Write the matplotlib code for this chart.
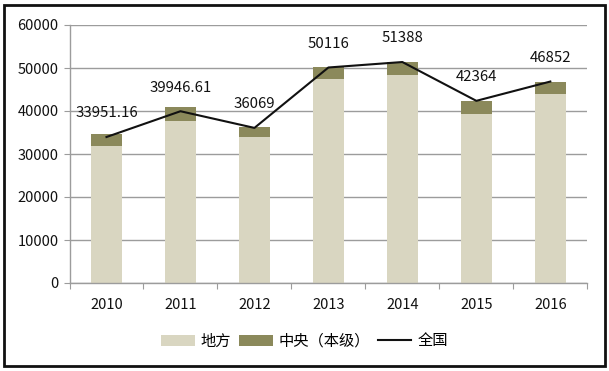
import matplotlib
matplotlib.use("Agg")
import matplotlib.pyplot as plt
import numpy as np
from matplotlib.patches import Patch, Rectangle
from matplotlib.lines import Line2D

plt.rcParams['font.family'] = ['Noto Sans CJK SC', 'DejaVu Sans']

years = ['2010', '2011', '2012', '2013', '2014', '2015', '2016']
local = [31860, 37740, 34020, 47370, 48300, 39300, 43950]
central = [2790, 3120, 2190, 2930, 3100, 3100, 2790]
national = [33951.16, 39946.61, 36069, 50116, 51388, 42364, 46852]
national_labels = ['33951.16', '39946.61', '36069', '50116', '51388', '42364', '46852']
yticks = [0, 10000, 20000, 30000, 40000, 50000, 60000]

light = '#d9d6c1'
dark = '#8b895b'
grid_c = '#9c9c9c'

fig = plt.figure(figsize=(6.09, 3.71), dpi=100)
ax = fig.add_axes([69.5 / 609, (371 - 283) / 371, (587.3 - 69.5) / 609, (283 - 25) / 371])

x = np.arange(len(years))
w = 0.42
ax.bar(x, local, width=w, color=light, zorder=2)
ax.bar(x, central, width=w, bottom=local, color=dark, zorder=2)
ax.plot(x, national, color='#111111', lw=1.5, zorder=3)

for xi, v, lab in zip(x, national, national_labels):
    ax.annotate(lab, (xi, v), xytext=(0, 17), textcoords='offset points',
                ha='center', va='center', fontsize=10.8, color='#111111')

ax.set_xlim(-0.5, len(years) - 0.5)
ax.set_ylim(0, 60000)
ax.set_yticks(yticks)
ax.set_yticklabels([str(t) for t in yticks])
ax.yaxis.grid(True, color=grid_c, lw=1, zorder=0)
ax.set_axisbelow(True)

ax.set_xticks(np.arange(-0.5, len(years)), minor=False)
ax.set_xticklabels([''] * (len(years) + 1))
ax.set_xticks(x, minor=True)
ax.set_xticklabels(years, minor=True)
ax.tick_params(axis='x', which='major', length=4.3, color=grid_c, direction='out')
ax.tick_params(axis='x', which='minor', length=0, pad=10.5, labelsize=10.5, labelcolor='#111111')
ax.tick_params(axis='y', length=4.3, color=grid_c, pad=3.5, labelsize=10.5, labelcolor='#111111')

for s in ['top', 'right']:
    ax.spines[s].set_visible(False)
for s in ['left', 'bottom']:
    ax.spines[s].set_color(grid_c)
    ax.spines[s].set_linewidth(1)

handles = [Patch(facecolor=light, edgecolor='none'),
           Patch(facecolor=dark, edgecolor='none'),
           Line2D([0], [0], color='#111111', lw=1.5)]
fig.legend(handles, ['地方', '中央（本级）', '全国'], ncol=3, frameon=False,
           loc='center', bbox_to_anchor=(0.5, (371 - 341) / 371), fontsize=11,
           handlelength=2.2, handletextpad=0.4, columnspacing=0.5, borderaxespad=0)

fig.patches.append(Rectangle((3.5 / 609, (371 - 366) / 371), (605 - 3.5) / 609, (366 - 5) / 371,
                             transform=fig.transFigure, fill=False, edgecolor='#111111', lw=2))

fig.savefig('out.png', dpi=100, facecolor='white')
